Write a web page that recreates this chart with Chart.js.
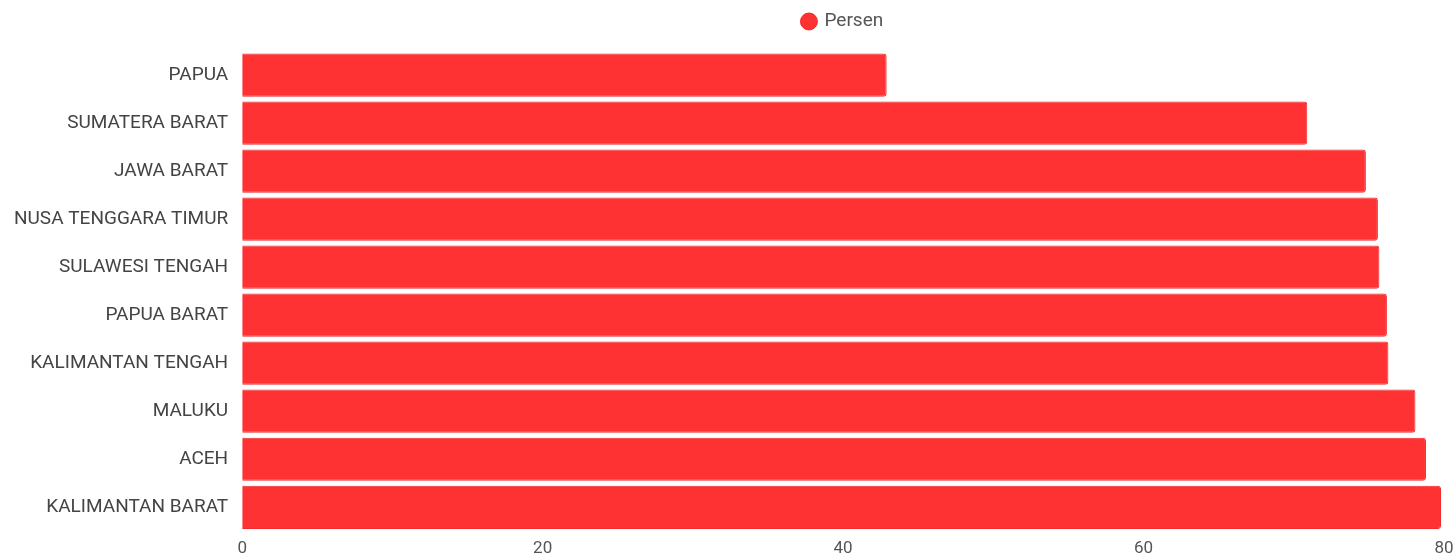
<!DOCTYPE html>
<html>
<head>
<meta charset="utf-8">
<script src="https://cdn.jsdelivr.net/npm/chart.js@4/dist/chart.umd.min.js"></script>
<style>
html,body{margin:0;padding:0;background:#fff;}
#wrap{width:1456px;height:558px;position:relative;}
</style>
</head>
<body>
<div id="wrap"><canvas id="c"></canvas></div>
<script>
const categories = ["PAPUA","SUMATERA BARAT","JAWA BARAT","NUSA TENGGARA TIMUR","SULAWESI TENGAH","PAPUA BARAT","KALIMANTAN TENGAH","MALUKU","ACEH","KALIMANTAN BARAT"];
const persen = [42.9, 70.9, 74.8, 75.6, 75.7, 76.2, 76.3, 78.1, 78.8, 79.8];
const seriesLabel = "Persen";
const xTicks = [0, 20, 40, 60, 80];

const legendGap = {
  id: 'legendGap',
  beforeInit(chart) {
    const orig = chart.legend.fit;
    chart.legend.fit = function () { orig.bind(chart.legend)(); this.height += 10; };
  },
  afterLayout(chart) {
    // centre legend over the plot area
    chart.legend.left = chart.chartArea.left;
    chart.legend.right = chart.chartArea.right;
  }
};

new Chart(document.getElementById('c'), {
  type: 'bar',
  data: {
    labels: categories,
    datasets: [{
      label: seriesLabel,
      data: persen,
      backgroundColor: '#fe3133',
      borderColor: '#f02a2e',
      borderWidth: 1,
      borderRadius: 3,
      borderSkipped: 'start',
      barPercentage: 0.9,
      categoryPercentage: 1.0
    }]
  },
  plugins: [legendGap],
  options: {
    indexAxis: 'y',
    responsive: true,
    maintainAspectRatio: false,
    animation: false,
    layout: { padding: { left: 8, right: 12, top: 2, bottom: 0 } },
    plugins: {
      legend: {
        display: true,
        labels: {
          usePointStyle: true,
          pointStyle: 'circle',
          boxWidth: 12,
          boxHeight: 12,
          color: '#555',
          font: { family: 'Roboto', size: 19 },
          padding: 10
        }
      },
      tooltip: { enabled: false }
    },
    scales: {
      x: {
        min: 0, max: 80,
        afterBuildTicks: (axis) => { axis.ticks = xTicks.map(v => ({ value: v })); },
        grid: { display: false },
        border: { display: false },
        ticks: { color: '#555', font: { family: 'Roboto', size: 17, lineHeight: 1.1 }, padding: 0 }
      },
      y: {
        grid: { display: false },
        border: { display: false },
        ticks: { color: '#444', font: { family: 'Roboto', size: 19 }, padding: 6 }
      }
    }
  }
});
</script>
</body>
</html>
